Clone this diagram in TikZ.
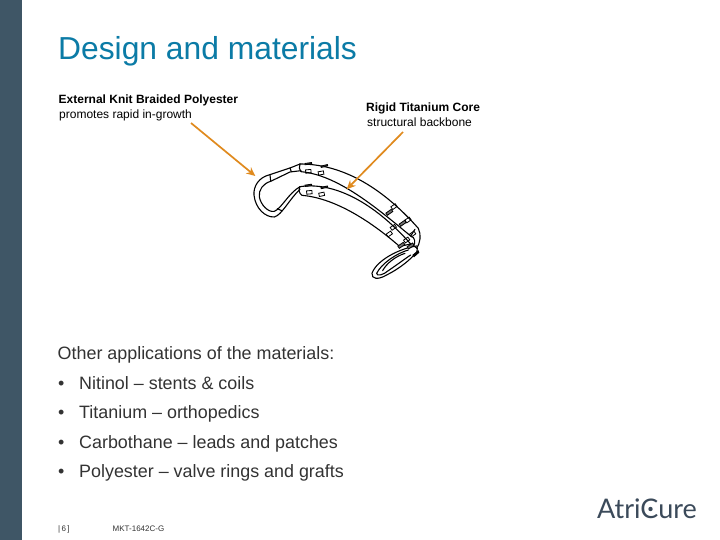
\documentclass[tikz,border=0pt]{standalone}
\usepackage{fontspec}
\setmainfont{Liberation Sans}
\newfontfamily\logofont{Lato}
\usetikzlibrary{arrows.meta}
\definecolor{sidebar}{HTML}{3F5666}
\definecolor{titleblue}{HTML}{0B7BA6}
\definecolor{arroworange}{HTML}{E08A1E}
\definecolor{bodygrey}{HTML}{333333}
\definecolor{logodark}{HTML}{3B4A5A}
\newcommand{\bulletgap}{\makebox[21pt][l]{•}}
\tikzset{
  lbl/.style={inner sep=0pt,anchor=base west,text=black},
  capt/.style={lbl,font=\fontsize{12}{14}\selectfont},
  captb/.style={lbl,font=\fontsize{12}{14}\selectfont\bfseries},
  item/.style={lbl,text=bodygrey,font=\fontsize{17.9}{21}\selectfont},
  tiny/.style={lbl,text=bodygrey,font=\fontsize{8}{10}\selectfont},
  pointer/.style={draw=arroworange,line width=1.7pt,-{Stealth[length=9pt,width=8pt]}},
  dev/.style={draw=black,line width=1.1pt,line join=round,line cap=round},
  sq/.style={draw=black,line width=0.8pt}
}
\begin{document}
\begin{tikzpicture}[x=1pt,y=-1pt]
\useasboundingbox (0,0) rectangle (720,540);
\fill[white] (0,0) rectangle (720,540);
\fill[sidebar] (0,0) rectangle (22,540);
\node[lbl,text=titleblue,font=\fontsize{31.8}{36}\selectfont] (title) at (58,60) {Design and materials};
\node[captb] (ka) at (58.5,103.7) {External Knit Braided Polyester};
\node[capt] (kb) at (59,118.7) {promotes rapid in-growth};
\node[captb] (ra) at (366,111.7) {Rigid Titanium Core};
\node[capt] (rb) at (367,126.7) {structural backbone};
\node[item] (head) at (57.5,359.4) {Other applications of the materials:};
\node[item] (b1) at (58,389.4) {\bulletgap Nitinol – stents \& coils};
\node[item] (b2) at (58,418.4) {\bulletgap Titanium – orthopedics};
\node[item] (b3) at (58,448.4) {\bulletgap Carbothane – leads and patches};
\node[item] (b4) at (58,477.4) {\bulletgap Polyester – valve rings and grafts};
\node[tiny] (pg) at (58,531) {|\,6\,]};
\node[tiny] (mk) at (112.5,531) {MKT-1642C-G};
\node[lbl,text=logodark,font=\logofont\fontsize{27}{30}\selectfont] (logo) at (597,518) {AtriCure};
\begin{scope}[shift={(240,140)},x=0.3333pt,y=-0.3333pt]
  % upper arm
  \draw[dev] (180,72) .. controls (300,72) and (420,135) .. (535,265);
  \draw[dev] (183,95) .. controls (290,105) and (400,195) .. (512,288);
  % lower arm
  \draw[dev] (180,140) .. controls (280,125) and (400,185) .. (512,312);
  \draw[dev] (186,166) .. controls (290,175) and (400,250) .. (482,322);
  % arm ends and sleeve
  \draw[dev] (180,72) .. controls (176,80) and (178,90) .. (183,95);
  \draw[dev] (180,140) .. controls (174,150) and (178,160) .. (186,166);
  % hook
  \draw[dev] (180,72) -- (150,84) -- (90,104) .. controls (55,112) and (40,140) .. (42,165)
     .. controls (46,205) and (75,232) .. (103,231) .. controls (125,226) and (150,175) .. (180,148);
  \draw[dev] (183,92) -- (150,96) -- (92,124) .. controls (70,130) and (55,150) .. (58,170)
     .. controls (62,195) and (85,218) .. (103,214) .. controls (125,205) and (145,160) .. (180,140);
  \draw[dev] (90,104) -- (92,124);
  \draw[dev] (150,84) -- (154,95);
  \draw[dev] (112,206) -- (125,212);
  % distal bend
  \draw[dev] (535,265) .. controls (545,285) and (540,310) .. (530,325);
  \draw[dev] (512,288) .. controls (525,290) and (528,310) .. (520,318);
  \draw[dev] (525,268) -- (512,288);
  % tip loop
  \draw[dev] (530,318) .. controls (480,325) and (410,360) .. (396,400)
     .. controls (394,418) and (415,420) .. (440,405) .. controls (480,385) and (510,360) .. (532,335);
  \draw[dev] (505,330) .. controls (470,340) and (425,370) .. (410,400)
     .. controls (410,410) and (430,405) .. (445,392) .. controls (470,375) and (490,360) .. (512,345);
  \draw[dev] (495,340) .. controls (465,350) and (440,370) .. (428,392);
  \draw[dev] (485,318) -- (512,312) -- (532,325) -- (530,340);
  \fill[black] (517,345) -- (535,330) -- (538,338) -- (522,352) -- cycle;
  % anchors on top edges
  \foreach \x/\y/\r in {205/71/8,253/78/14,205/136/8,253/142/12}{
    \draw[sq,fill=black!70,rotate around={\r:(\x,\y)}] (\x-10,\y-2) rectangle (\x+10,\y+2);}
  % anchor squares
  \foreach \x/\y/\r in {205/94/5,243/99/10,208/157/5,245/163/12,
      462/200/35,504/240/35,460/262/35,500/300/35,448/282/35,518/282/35}{
    \draw[sq,rotate around={\r:(\x,\y)}] (\x-8,\y-5) rectangle (\x+8,\y+5);}
  \foreach \x/\y/\r in {448/217/35,488/250/35,484/316/35,512/318/35}{
    \draw[sq,fill=black!55,rotate around={\r:(\x,\y)}] (\x-10,\y-4) rectangle (\x+10,\y+4);}
  \coordinate (armA) at (320,148);
  \coordinate (armB) at (46,108);
\end{scope}
\coordinate (fromA) at (191,123);
\coordinate (fromB) at (403,132);
\draw[pointer] (fromA) -- (armB);
\draw[pointer] (fromB) -- (armA);
\fill[logodark] (650.5,509) circle (2.2pt);
\end{tikzpicture}
\end{document}
